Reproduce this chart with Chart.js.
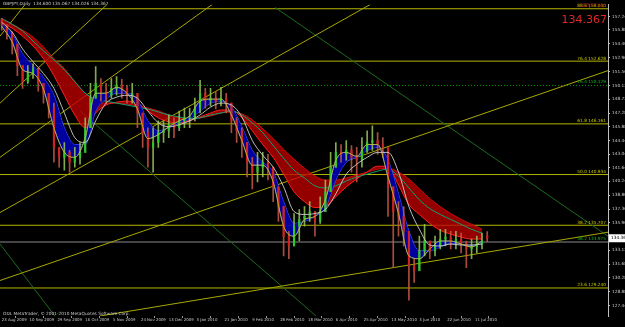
<!DOCTYPE html>
<html><head><meta charset="utf-8">
<script src="https://cdn.jsdelivr.net/npm/chart.js@4.4.1/dist/chart.umd.min.js"></script>
<style>html,body{margin:0;padding:0;background:#000;overflow:hidden}</style>
</head><body>
<canvas id="c" width="625" height="327"></canvas>
<script>
// ---------- data ----------
const dateLabels = ["23 Aug 2009","10 Sep 2009","29 Sep 2009","16 Oct 2009","5 Nov 2009","24 Nov 2009","13 Dec 2009","3 Jan 2010","21 Jan 2010","9 Feb 2010","28 Feb 2010","18 Mar 2010","6 Apr 2010","25 Apr 2010","13 May 2010","3 Jun 2010","22 Jun 2010","11 Jul 2010"];
const dateBars = [0,16,32,48,64,80,96,112,128,144,160,176,192,208,224,240,256,272];
const priceTicks = [157.240,155.880,154.400,152.960,151.560,150.120,148.720,147.280,145.880,144.440,143.040,141.640,140.240,138.800,137.360,135.960,133.120,131.680,130.280,128.880,127.440,126.040];

const candleOpen = [156.94,156.43,155.62,154.40,152.16,150.53,151.35,151.86,150.33,149.32,
147.79,143.73,142.71,143.22,142.20,142.71,143.22,145.76,148.81,150.33,
149.52,149.11,149.82,150.13,149.82,149.11,149.32,147.28,145.25,143.73,
144.24,145.25,145.45,146.06,145.76,146.47,146.78,146.78,147.79,149.32,
148.61,148.81,148.50,148.81,148.30,146.47,145.45,144.24,142.20,141.19,
141.70,142.20,141.70,139.66,137.63,134.58,133.57,135.60,136.31,136.62,
137.12,136.11,137.12,139.16,141.70,143.22,143.02,143.42,142.71,142.41,
143.42,144.24,144.44,144.03,143.73,139.66,137.12,136.62,135.09,131.54,
131.03,133.06,134.08,133.06,133.57,134.28,134.48,134.08,134.28,133.87,
133.26,133.47,133.77,134.600];
const candleHigh = [157.04,156.43,155.41,152.87,151.86,152.16,152.36,151.55,150.33,148.81,
148.30,143.73,144.24,143.42,143.73,144.24,146.78,150.33,152.06,150.84,
150.33,150.84,151.04,150.74,150.13,150.33,148.81,147.28,145.76,145.76,
146.47,146.47,147.08,146.78,147.49,147.79,147.79,148.81,150.64,149.82,
149.82,149.52,149.93,149.32,147.79,146.78,145.76,143.73,142.71,143.22,
143.22,143.02,141.19,139.16,136.62,135.09,136.92,137.33,137.63,138.14,
137.12,138.65,140.37,143.22,144.24,144.03,144.44,143.93,143.73,144.74,
145.45,145.96,145.25,144.74,142.20,139.16,138.14,137.63,133.57,132.25,
134.58,135.80,134.08,134.58,135.29,135.29,135.09,135.09,134.89,134.08,
134.28,134.58,134.89,135.067];
const candleLow = [155.82,154.90,153.38,151.14,149.82,150.33,150.84,149.52,148.30,146.78,
142.20,141.70,141.39,141.19,141.70,142.00,143.22,146.27,148.81,148.50,
148.30,148.81,149.11,148.81,148.30,148.30,145.76,143.73,141.70,141.19,
143.73,144.24,144.74,144.74,145.45,145.76,145.76,146.47,147.28,147.79,
148.00,147.69,148.00,147.28,145.25,144.24,142.71,140.68,139.46,140.17,
140.68,140.37,138.14,136.11,132.55,132.25,134.08,134.08,135.60,136.11,
134.58,135.90,137.63,139.97,142.20,142.20,142.41,141.19,140.17,141.70,
143.22,143.42,143.02,142.71,136.62,131.33,134.58,133.57,127.98,129.81,
131.54,132.55,132.25,132.55,133.26,133.57,133.26,133.26,132.86,131.33,
132.25,132.86,133.26,134.026];
const candleClose = [156.43,155.62,154.40,152.16,150.53,151.35,151.86,150.33,149.32,147.79,
143.73,142.71,143.22,142.20,142.71,143.22,145.76,148.81,150.33,149.52,
149.11,149.82,150.13,149.82,149.11,149.32,147.28,145.25,143.73,144.24,
145.25,145.45,146.06,145.76,146.47,146.78,146.78,147.79,149.32,148.61,
148.81,148.50,148.81,148.30,146.47,145.45,144.24,142.20,141.19,141.70,
142.20,141.70,139.66,137.63,134.58,133.57,135.60,136.31,136.62,137.12,
136.11,137.12,139.16,141.70,143.22,143.02,143.42,142.71,142.41,143.42,
144.24,144.44,144.03,143.73,139.66,137.12,136.62,135.09,131.54,131.03,
133.06,134.08,133.06,133.57,134.28,134.48,134.08,134.28,133.87,133.26,
133.47,133.77,134.08,134.367];

// moving-average ribbons (one value every 6 bars)
const emaFast = [156.22,154.60,151.75,151.35,149.72,145.76,143.22,142.71,144.74,149.32,149.32,149.93,149.32,147.69,144.64,145.05,145.86,146.47,146.98,148.50,148.71,148.71,147.08,144.44,141.90,141.90,140.17,135.60,134.58,136.31,136.62,138.34,142.41,143.22,142.81,144.03,144.03,140.68,136.92,132.55,132.25,133.26,134.08,134.08,133.77,133.47,134.08];
const emaSlow = [156.43,155.41,153.38,152.16,150.94,149.11,145.76,144.03,144.03,147.49,148.71,149.32,149.32,148.61,146.47,145.45,145.76,146.27,146.67,147.49,148.30,148.50,147.89,145.86,143.42,142.20,141.19,138.14,135.90,136.11,136.62,137.53,140.37,142.20,142.71,143.42,143.73,142.41,138.95,135.09,133.06,133.06,133.47,133.87,133.77,133.57,133.87];
const smaWhite = [156.63,155.62,153.89,152.57,151.35,149.82,147.28,144.74,144.24,146.47,148.30,148.91,149.11,148.81,147.49,146.27,145.86,146.06,146.47,147.08,147.89,148.30,148.10,146.88,144.44,142.92,141.70,139.66,137.12,136.82,136.92,137.33,138.95,140.98,142.00,142.71,143.22,143.22,141.19,137.63,135.29,133.67,133.57,133.77,133.67,133.67,133.77];
const longFast = [156.63,156.02,155.21,154.19,152.87,151.14,149.11,147.08,145.76,147.28,148.10,148.40,148.50,148.30,147.49,146.78,146.37,146.27,146.47,146.88,147.28,147.59,147.59,146.78,145.45,144.03,142.71,140.98,139.16,138.14,137.53,137.63,138.65,139.66,140.48,141.19,141.80,141.70,139.87,137.84,136.82,135.90,135.19,134.79,134.48,134.28,134.28];
const longSlow = [156.94,156.43,155.82,155.11,154.09,152.87,151.86,150.53,149.32,148.50,148.30,148.30,148.20,148.00,147.79,147.49,147.08,146.78,146.67,146.78,146.98,147.28,147.39,147.18,146.57,145.66,144.64,143.53,142.51,141.59,140.78,140.37,140.37,140.58,140.88,141.19,141.49,141.59,141.19,140.48,139.46,138.45,137.63,136.92,136.31,135.80,135.29];
const tealLine = [157.04,156.43,155.72,154.70,153.69,152.77,151.75,150.53,149.32,148.71,148.50,148.30,148.10,147.89,147.69,147.39,147.08,146.88,146.67,146.78,147.08,147.28,147.49,147.08,146.27,145.25,143.93,142.61,141.39,140.58,139.77,139.56,139.77,140.27,140.68,140.98,141.29,141.49,140.78,139.56,138.34,137.43,136.82,136.31,135.80,135.29,134.89];

// Fibonacci levels
const fibLevels = ["88.6","76.4","61.8","50.0","38.2","23.6"];
const fibPrices = [158.030,152.628,146.161,140.934,135.707,129.240];
const fib2Levels = ["76.4","38.2"];
const fib2Prices = [150.129,133.975];

// trend lines: [startBar, startPrice, endBar, endPrice]
const yellowTrend = [
  [-0.98,155.21, 13.4,158.46],
  [-0.98,148.30, 60.5,158.46],
  [-0.98,142.71,120.9,158.46],
  [-0.98,137.02,211.7,158.46],
  [-0.98,130.01,348.4,151.65],
  [ 56.5,126.35,348.4,134.99]
];
const greenTrend = [
  [ 45.0,147.49,180.6,126.35],
  [157.1,158.16,348.4,134.58],
  [-0.98,133.77, 30.6,126.35]
];

// ---------- build ----------
const CANDLE_STEP = 3, RIBBON_STEP = 6;
const X_MIN = -0.98, X_MAX = 348.4, Y_MIN = 126.35, Y_MAX = 158.46;
const pts = (arr, step) => arr.map((v,i)=>({x:i*step, y:v}));

const upC = '#2cc82c', dnC = '#d02222';
const candleColor = candleClose.map((c,i)=> c>=candleOpen[i] ? upC : dnC);
const wickColor = candleClose.map((c,i)=> c>=candleOpen[i] ? 'rgba(150,200,90,0.85)' : 'rgba(200,90,70,0.85)');
const wickData = candleClose.map((c,i)=>({x:i*CANDLE_STEP, y:[Math.min(candleLow[i],candleOpen[i],c), Math.max(candleHigh[i],candleOpen[i],c)]}));
const bodyData = candleClose.map((c,i)=>{
  let lo=Math.min(candleOpen[i],c), hi=Math.max(candleOpen[i],c);
  if (hi-lo<0.08) hi=lo+0.08;
  return {x:i*CANDLE_STEP, y:[lo,hi]};
});

const datasets = [];
const lineDs = (data, color, extra={}) => Object.assign({type:'line', data, borderColor:color, borderWidth:1, pointRadius:0, fill:false, tension:0}, extra);

fibPrices.forEach(p=>datasets.push(lineDs([{x:X_MIN,y:p},{x:X_MAX,y:p}], '#b4b400', {order:20})));
datasets.push(lineDs([{x:X_MIN,y:fib2Prices[0]},{x:X_MAX,y:fib2Prices[0]}], '#00a000', {borderDash:[1,2], order:20}));
datasets.push(lineDs([{x:X_MIN,y:fib2Prices[1]},{x:X_MAX,y:fib2Prices[1]}], '#454545', {borderWidth:2, order:20}));
yellowTrend.forEach(t=>datasets.push(lineDs([{x:t[0],y:t[1]},{x:t[2],y:t[3]}], '#a8a800', {order:19})));
greenTrend.forEach(t=>datasets.push(lineDs([{x:t[0],y:t[1]},{x:t[2],y:t[3]}], '#1e6a1e', {order:19})));

// long ribbon
datasets.push(lineDs(pts(longSlow,RIBBON_STEP), '#e01010', {cubicInterpolationMode:'monotone', order:12}));
datasets.push(lineDs(pts(longFast,RIBBON_STEP), '#ff2020', {cubicInterpolationMode:'monotone', fill:'-1', backgroundColor:'rgba(190,0,0,0.78)', order:11}));
datasets.push(lineDs(pts(tealLine,RIBBON_STEP), '#10a070', {cubicInterpolationMode:'monotone', order:10}));
// short ribbon
datasets.push(lineDs(pts(emaSlow,RIBBON_STEP), '#4060ff', {cubicInterpolationMode:'monotone', order:9}));
datasets.push(lineDs(pts(emaFast,RIBBON_STEP), '#3050ff', {cubicInterpolationMode:'monotone', fill:'-1', backgroundColor:'rgba(0,0,175,0.9)', order:8}));
// candles
datasets.push({type:'bar', data:wickData, backgroundColor:wickColor, barThickness:1, grouped:false, order:6});
datasets.push({type:'bar', data:bodyData, backgroundColor:candleColor, barThickness:1.5, grouped:false, order:5});
datasets.push(lineDs(pts(smaWhite,RIBBON_STEP), '#cfcfcf', {cubicInterpolationMode:'monotone', order:4, borderWidth:0.9}));
datasets.push(lineDs(pts(emaFast,RIBBON_STEP), '#c8c820', {cubicInterpolationMode:'monotone', order:3, borderWidth:0.8}));

const lastPrice = candleClose[candleClose.length-1];

const bg = {id:'bg', beforeDraw(ch){const c=ch.ctx; c.save(); c.fillStyle='#000'; c.fillRect(0,0,ch.width,ch.height); c.restore();}};
const overlay = {
  id:'overlay',
  afterDraw(ch){
    const {ctx, chartArea:a, scales:{y}} = ch;
    ctx.save();
    ctx.font = '4.3px "DejaVu Sans"';
    ctx.textAlign='right'; ctx.textBaseline='bottom';
    fibLevels.forEach((l,i)=>{ ctx.fillStyle='#c8c800'; ctx.fillText(l+' '+fibPrices[i].toFixed(3), a.right-2, y.getPixelForValue(fibPrices[i])-0.5); });
    fib2Levels.forEach((l,i)=>{ ctx.fillStyle='#20b020'; ctx.fillText(l+' '+fib2Prices[i].toFixed(3), a.right-2, y.getPixelForValue(fib2Prices[i])-1); });
    // header
    ctx.textAlign='left'; ctx.textBaseline='top'; ctx.fillStyle='#c8c8c8';
    ctx.fillText('GBPJPY,Daily  '+candleOpen[candleOpen.length-1].toFixed(3)+' '+candleHigh[candleHigh.length-1].toFixed(3)+' '+candleLow[candleLow.length-1].toFixed(3)+' '+lastPrice.toFixed(3), 3, 2);
    ctx.fillText('ODL MetaTrader, \u00a9 2001-2010 MetaQuotes Software Corp.', 3, 312);
    ctx.textAlign='right'; ctx.fillStyle='#b01010';
    ctx.font = '5px "DejaVu Sans"';
    ctx.fillText('GBPJPY pip', a.right-2, 3);
    ctx.font = '11px "DejaVu Sans"'; ctx.fillStyle='#e02828';
    ctx.fillText(lastPrice.toFixed(3), a.right-1, 15);
    // price box
    const py = y.getPixelForValue(lastPrice);
    ctx.fillStyle='#ffffff'; ctx.fillRect(a.right+1, py-4, 20, 8);
    ctx.fillStyle='#000'; ctx.font='4.3px "DejaVu Sans"'; ctx.textAlign='left'; ctx.textBaseline='middle';
    ctx.fillText(lastPrice.toFixed(3), a.right+3, py);
    ctx.restore();
  }
};

new Chart(document.getElementById('c'), {
  type:'line',
  data:{datasets},
  plugins:[bg, overlay],
  options:{
    responsive:false, animation:false, devicePixelRatio:1,
    layout:{padding:0},
    plugins:{legend:{display:false}, tooltip:{enabled:false}},
    scales:{
      x:{type:'linear', min:X_MIN, max:X_MAX, offset:false,
        afterBuildTicks:s=>{s.ticks = dateBars.map(v=>({value:v}));},
        afterFit:s=>{s.height = 11;},
        ticks:{autoSkip:false, maxRotation:0, minRotation:0, align:'start', padding:0, color:'#c8c8c8', font:{size:3.9, family:'DejaVu Sans'}, callback:(v,i)=>dateLabels[i]},
        grid:{drawOnChartArea:false, color:'#9a9a9a', tickLength:2},
        border:{display:false}
      },
      y:{type:'linear', position:'right', min:Y_MIN, max:Y_MAX,
        afterBuildTicks:s=>{s.ticks = priceTicks.filter(v=>v>=Y_MIN&&v<=Y_MAX).map(v=>({value:v}));},
        afterFit:s=>{s.width = 17;},
        ticks:{padding:2, color:'#c8c8c8', font:{size:4.3, family:'DejaVu Sans'}, callback:v=>Number(v).toFixed(3)},
        grid:{drawOnChartArea:false, color:'#c0c0c0', tickLength:2},
        border:{display:true, color:'#c0c0c0'}
      }
    }
  }
});
</script>
</body></html>
